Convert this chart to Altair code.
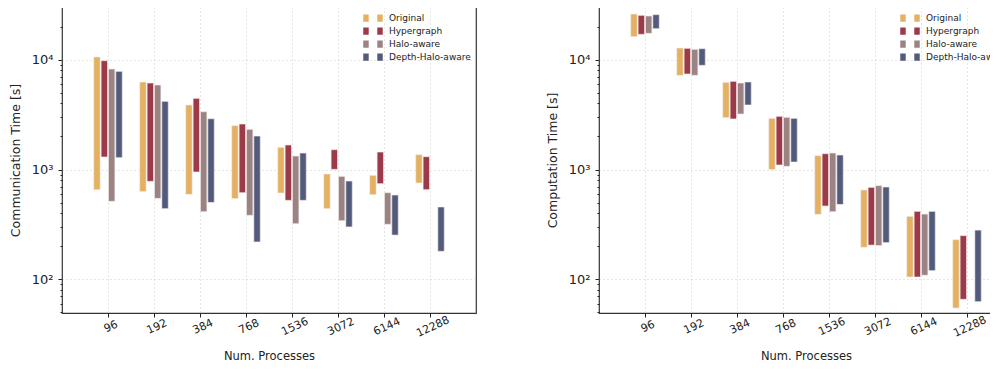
import altair as alt
import pandas as pd

procs = ["96", "192", "384", "768", "1536", "3072", "6144", "12288"]
series = ["Original", "Hypergraph", "Halo-aware", "Depth-Halo-aware"]
colors = ["#E4B062", "#9D3A4A", "#9B8383", "#535B7C"]

# Communication time (min, max) per series
comm_original_lo = [655, 629, 594, 543, 611, 440, 590, 754]
comm_original_hi = [10580, 6260, 3870, 2506, 1592, 910, 885, 1365]
comm_hyper_lo = [1300, 780, 949, 615, 524, 1003, 743, 655]
comm_hyper_hi = [9790, 6130, 4445, 2596, 1672, 1516, 1443, 1309]
comm_halo_lo = [513, 546, 413, 383, 321, 342, 317, None]
comm_halo_hi = [8220, 5880, 3360, 2322, 1327, 866, 615, None]
comm_depth_lo = [1282, 440, 502, 219, 524, 300, 253, 180]
comm_depth_hi = [7830, 4175, 2900, 2018, 1413, 786, 586, 456]

# Computation time (min, max) per series
comp_original_lo = [16200, 7200, 2965, 1000, 391, 196, 105, 54.8]
comp_original_hi = [26050, 12770, 6220, 2923, 1336, 651, 375, 230]
comp_hyper_lo = [17010, 7405, 2885, 1099, 465, 205, 105, 65.8]
comp_hyper_hi = [25330, 12680, 6350, 3050, 1394, 688, 416, 250]
comp_halo_lo = [17370, 7200, 3200, 1069, 413, 203, 109, None]
comp_halo_hi = [24980, 12420, 6130, 2985, 1413, 713, 393, None]
comp_depth_lo = [19150, 8880, 3867, 1170, 481, 216, 120, 62.6]
comp_depth_hi = [25690, 12590, 6265, 2923, 1355, 693, 416, 281]


def build(los, his):
    rows = []
    for s_i, (name, lo, hi) in enumerate(zip(series, los, his)):
        for g_i, p in enumerate(procs):
            if lo[g_i] is None:
                continue
            rows.append({"series": name, "sidx": s_i, "gidx": g_i + 1,
                         "lo": lo[g_i], "hi": hi[g_i]})
    return pd.DataFrame(rows)


comm_df = build([comm_original_lo, comm_hyper_lo, comm_halo_lo, comm_depth_lo],
                [comm_original_hi, comm_hyper_hi, comm_halo_hi, comm_depth_hi])
comp_df = build([comp_original_lo, comp_hyper_lo, comp_halo_lo, comp_depth_lo],
                [comp_original_hi, comp_hyper_hi, comp_halo_hi, comp_depth_hi])

FONT = "DejaVu Sans"
minor_vals = [50, 60, 70, 80, 90] + [m * 100 for m in range(1, 10)] + \
    [m * 1000 for m in range(1, 10)] + [10000, 20000, 30000]
is_major = "datum.value == 100 || datum.value == 1000 || datum.value == 10000"
x_label_expr = "[" + ",".join("'%s'" % p for p in procs) + "][datum.value - 1]"

two_squares = "M-1,-0.37H-0.44V0.37H-1Z M0.44,-0.37H1V0.37H0.44Z"


def panel(df, ytitle):
    return alt.Chart(df).transform_calculate(
        x0="datum.gidx + (datum.sidx - 1.5) * 0.16 - 0.07",
        x1="datum.gidx + (datum.sidx - 1.5) * 0.16 + 0.07",
    ).mark_rect(stroke="#f4eeee", strokeWidth=0.8, strokeOpacity=0.8).encode(
        x=alt.X("x0:Q",
                scale=alt.Scale(domain=[0, 9], nice=False, zero=False),
                axis=alt.Axis(values=list(range(1, len(procs) + 1)),
                              labelExpr=x_label_expr,
                              title="Num. Processes",
                              labelAngle=-25, labelAlign="center",
                              labelBaseline="top", labelPadding=4,
                              labelFontSize=11, titleFontSize=11.5,
                              titlePadding=12,
                              tickSize=4, tickColor="#222",
                              grid=True, gridDash=[1, 3], gridColor="#cccccc",
                              domain=False, labelColor="#222", titleColor="#222")),
        x2="x1:Q",
        y=alt.Y("lo:Q",
                scale=alt.Scale(type="log", domain=[49.4, 30170], nice=False),
                axis=alt.Axis(values=minor_vals,
                              labelExpr="datum.value == 100 ? '10²' : datum.value == 1000 ? '10³' : datum.value == 10000 ? '10⁴' : ''",
                              title=ytitle,
                              labelFontSize=13, titleFontSize=12.5,
                              tickSize={"condition": {"test": is_major, "value": 4}, "value": 2},
                              gridOpacity={"condition": {"test": is_major, "value": 1}, "value": 0},
                              grid=True, gridDash=[1, 3], gridColor="#cccccc",
                              tickColor="#222", domain=False, labelPadding=5,
                              titlePadding=9,
                              labelColor="#222", titleColor="#222")),
        y2="hi:Q",
        color=alt.Color("series:N",
                        scale=alt.Scale(domain=series, range=colors),
                        legend=alt.Legend(title=None, orient="top-right",
                                          offset=5, symbolType=two_squares,
                                          symbolSize=380, symbolStrokeWidth=0,
                                          clipHeight=12.3, rowPadding=0,
                                          labelFontSize=9, labelFont=FONT,
                                          labelOffset=6, labelColor="#222",
                                          padding=0)),
    ).properties(width=414, height=306)


chart = alt.hconcat(
    panel(comm_df, "Communication Time [s]"),
    panel(comp_df, "Computation Time [s]"),
    spacing=68,
).resolve_scale(color="independent").properties(
    padding={"top": -3, "left": 0, "right": -24, "bottom": 0}
).configure(font=FONT).configure_view(
    stroke="#333333", strokeWidth=1.2
).configure_axis(labelFont=FONT, titleFont=FONT, titleFontWeight="normal")

chart.save("out.html", embed_options={"renderer": "svg", "actions": False})
